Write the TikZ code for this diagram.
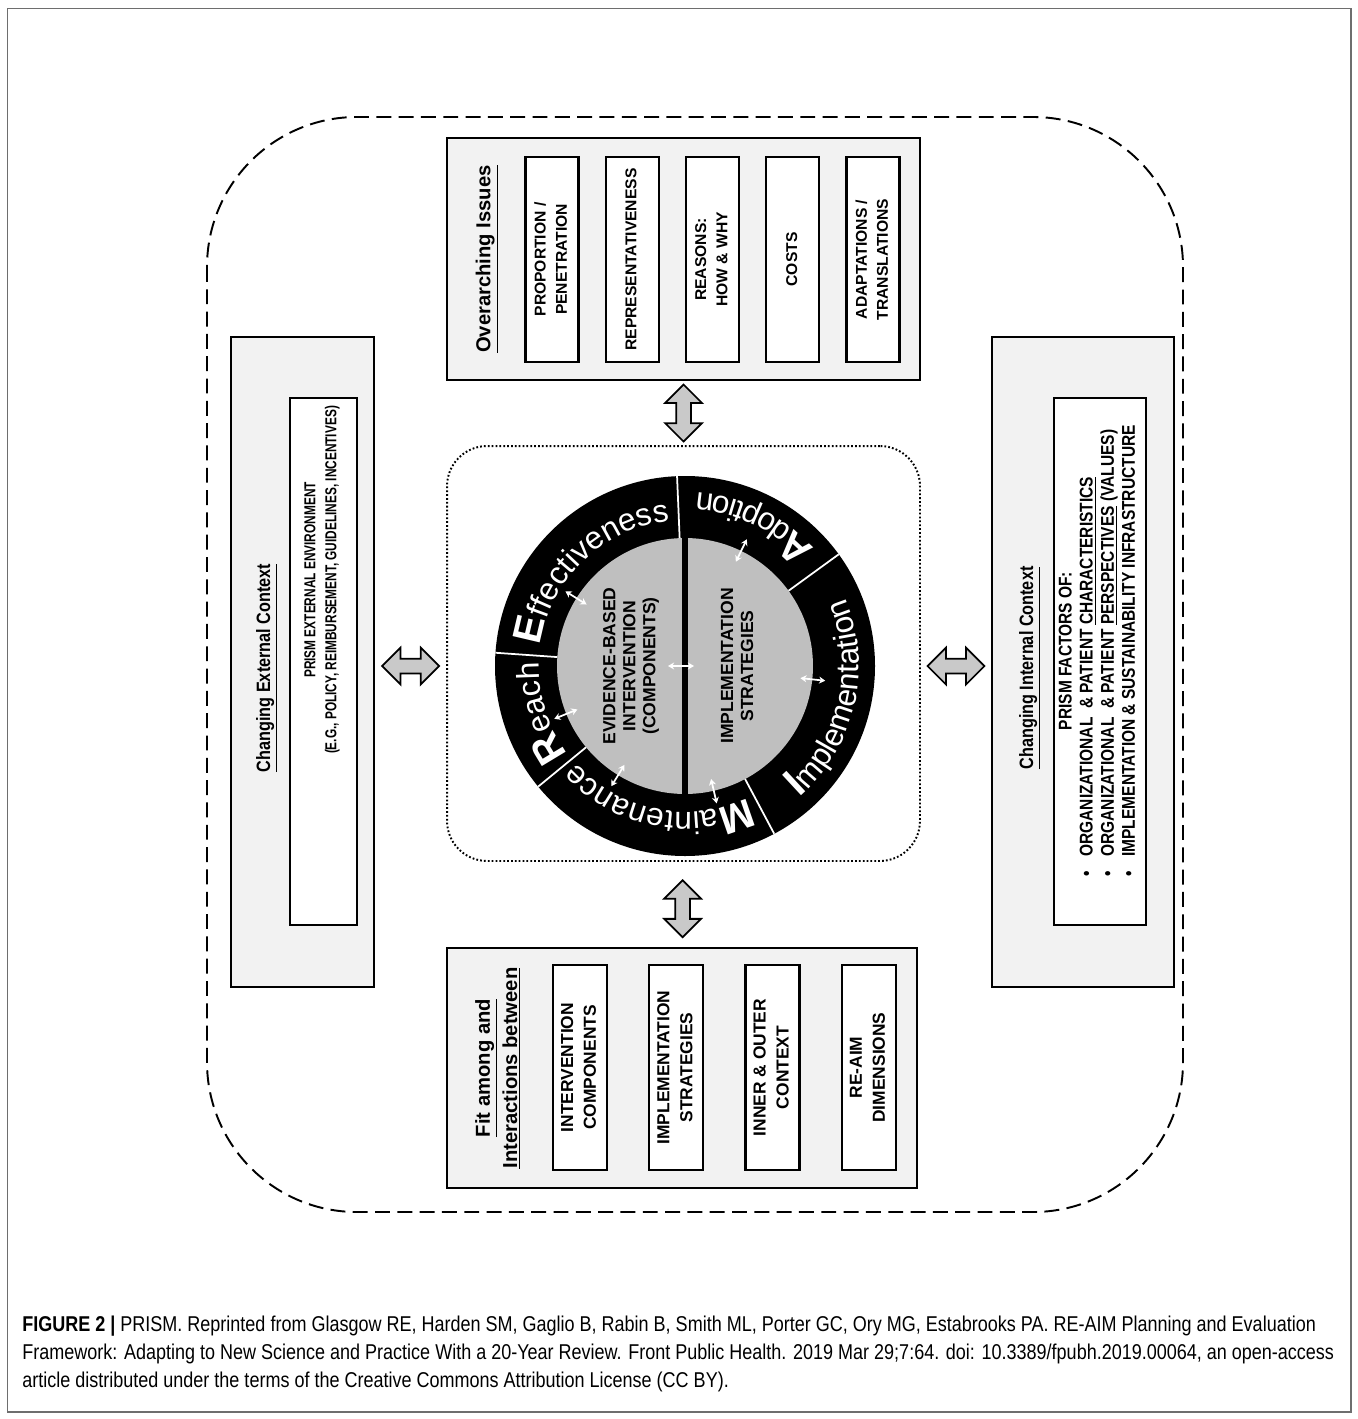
\documentclass[tikz,border=0pt]{standalone}
\usepackage{fontspec}
\setmainfont{Liberation Sans}
\newfontfamily\narrowfont[FakeStretch=0.84]{Liberation Sans}
\newfontfamily\tightfont[FakeStretch=0.75]{Liberation Sans}
\usepackage{graphicx}
\usepackage{tikz}
\usetikzlibrary{arrows.meta, positioning, shapes.arrows, decorations.text, calc}

\definecolor{panelgray}{HTML}{F2F2F2}
\definecolor{blockgray}{HTML}{C9C9C9}
\definecolor{coregray}{HTML}{BFBFBF}
\definecolor{edgegray}{HTML}{6E6E6E}

\newcommand{\vlabel}[1]{\rotatebox{90}{\begin{tabular}{@{}c@{}}#1\end{tabular}}}
\newcommand{\ringfont}{\fontsize{18}{18}\selectfont}
\newcommand{\ringcap}{\bfseries\fontsize{23}{23}\selectfont}

\begin{document}
\begin{tikzpicture}[
  x=0.02cm, y=0.02cm,
  panel/.style={draw=black, fill=panelgray, line width=1.1pt, inner sep=0pt},
  issue/.style={draw=black, fill=white, line width=1.3pt, inner sep=0pt,
                minimum width=1.06cm, minimum height=4.1cm,
                font=\bfseries\fontsize{8.9}{12}\selectfont},
  fitbox/.style={issue, minimum width=1.08cm, font=\bfseries\fontsize{9.9}{13}\selectfont},
  ttl/.style={rotate=90, align=center, font=\bfseries\fontsize{11.5}{15.5}\selectfont},
  ctxttl/.style={rotate=90, align=center, font=\narrowfont\bfseries\fontsize{11}{15}\selectfont},
  blockarr/.style={double arrow, draw=black, fill=blockgray, line width=1pt,
                   minimum height=1.14cm, inner sep=0.13cm,
                   double arrow head extend=0.22cm},
  seg/.style={white, line width=1pt},
  tick/.style={{Stealth[length=3.5pt,width=4pt]}-{Stealth[length=3.5pt,width=4pt]}, white, line width=1pt}
]
\useasboundingbox (0,0) rectangle (1358,-1419);
\draw[edgegray, line width=1.1pt] (7.5,-8.5) rectangle (1351,-1412);
\draw[line width=1.1pt, dash pattern=on 8.5pt off 4.2pt, rounded corners=3cm] (207,-117) rectangle (1183,-1212);

% overarching issues
\node[panel, minimum width=9.46cm, minimum height=4.84cm] (oi) at (683.5,-259) {};
\node[ttl] (oit) at (487,-259) {\underline{Overarching Issues}};
\node[issue] (pp) at (552,-259.5) {\vlabel{PROPORTION /\\PENETRATION}};
\node[issue, right=0.5cm of pp] (rp) {\vlabel{REPRESENTATIVENESS}};
\node[issue, right=0.5cm of rp] (rs) {\vlabel{REASONS:\\HOW \& WHY}};
\node[issue, right=0.5cm of rs] (co) {\vlabel{COSTS}};
\node[issue, right=0.5cm of co] (ad) {\vlabel{ADAPTATIONS /\\TRANSLATIONS}};

% fit among and interactions
\node[panel, minimum width=9.4cm, minimum height=4.8cm] (fb) at (682,-1068) {};
\node[ttl] (fbt) at (498,-1068) {\underline{Fit among and}\\\underline{Interactions between}};
\node[fitbox] (icmp) at (580,-1067.5) {\vlabel{INTERVENTION\\COMPONENTS}};
\node[fitbox, right=0.8cm of icmp] (istr) {\vlabel{IMPLEMENTATION\\STRATEGIES}};
\node[fitbox, right=0.8cm of istr] (ioc) {\vlabel{INNER \& OUTER\\CONTEXT}};
\node[fitbox, right=0.8cm of ioc] (rad) {\vlabel{RE-AIM\\DIMENSIONS}};

% external context
\node[panel, minimum width=2.86cm, minimum height=13cm] (ec) at (302.5,-662) {};
\node[ctxttl] (ect) at (267,-668) {\underline{Changing External Context}};
\node[issue, minimum width=1.34cm, minimum height=10.54cm] (ecb) at (323.5,-661.5) {};
\node[rotate=90, align=center, font=\tightfont\bfseries\fontsize{9}{12}\selectfont] (ecl) at (322,-580)
  {PRISM EXTERNAL ENVIRONMENT\\(E.G., POLICY, REIMBURSEMENT, GUIDELINES, INCENTIVES)};

% internal context
\node[panel, minimum width=3.64cm, minimum height=13cm] (ic) at (1083,-662) {};
\node[ctxttl] (ict) at (1030,-668) {\underline{Changing Internal Context}};
\node[issue, minimum width=1.84cm, minimum height=10.54cm] (icb) at (1100,-661.5) {};
\node[rotate=90, font=\narrowfont\bfseries\fontsize{10.5}{12}\selectfont] (icl) at (1099,-651)
  {\begin{tabular}{@{}l@{}}
   \multicolumn{1}{@{}c@{}}{PRISM FACTORS OF:}\\
   \textbullet\hspace{0.8em}ORGANIZATIONAL \ \& PATIENT \underline{CHARACTERISTICS}\\
   \textbullet\hspace{0.8em}ORGANIZATIONAL \ \& PATIENT \underline{PERSPECTIVES} (VALUES)\\
   \textbullet\hspace{0.8em}IMPLEMENTATION \& SUSTAINABILITY INFRASTRUCTURE
   \end{tabular}};

% RE-AIM wheel
\node[draw, line width=1.1pt, dash pattern=on 1pt off 1.2pt, rounded corners=0.8cm,
      minimum width=9.46cm, minimum height=8.3cm] (mid) at (683.5,-653.5) {};
\coordinate (c) at (685,-666);
\fill[black] (c) circle[radius=190];
\node[circle, fill=coregray, minimum size=5.12cm, inner sep=0pt] (core) at (c) {};
\draw[line width=3pt] (core.north) -- (core.south);
\foreach \a in {92.4, 36, -62, 219.4, 176}
  \draw[seg] ($(c)+(\a:128)$) -- ($(c)+(\a:190)$);
\node[rotate=90, align=center, font=\bfseries\fontsize{10}{11.4}\selectfont] (ebi) at (631,-666)
  {EVIDENCE-BASED\\INTERVENTION\\(COMPONENTS)};
\node[rotate=90, align=center, font=\bfseries\fontsize{10}{11.4}\selectfont] (ims) at (737,-666)
  {IMPLEMENTATION\\STRATEGIES};

\path[decorate, decoration={text along path, text align=center, text color=white,
  text={|\ringcap|E|\ringfont|ffectiveness}}]
  ($(c)+(176:146)$) arc[start angle=176, end angle=92, radius=146];
\path[decorate, decoration={text along path, text align=center, text color=white,
  text={|\ringcap|R|\ringfont|each}}]
  ($(c)+(219.4:146)$) arc[start angle=219.4, end angle=176, radius=146];
\path[decorate, decoration={text along path, text align=center, text color=white,
  text={|\ringcap|M|\ringfont|aintenance}}]
  ($(c)+(298:146)$) arc[start angle=298, end angle=219.4, radius=146];
\path[decorate, decoration={text along path, text align=center, text color=white,
  text={|\ringcap|A|\ringfont|doption}}]
  ($(c)+(36:174)$) arc[start angle=36, end angle=92.4, radius=174];
\path[decorate, decoration={text along path, text align=center, text color=white,
  text={|\ringcap|I|\ringfont|mplementation}}]
  ($(c)+(-62:174)$) arc[start angle=-62, end angle=36, radius=174];

\foreach \a in {148, 64, -6, -77, 238.5, 202}
  \draw[tick] ($(c)+(\a:116)$) -- ($(c)+(\a:141)$);
\draw[tick] ($(c)+(-17,0)$) -- ($(c)+(9,0)$);

% block arrows
\node[blockarr, rotate=90] (aup) at ($(oi.south)!0.5!(mid.north)$) {};
\node[blockarr, rotate=90] (adown) at ($(mid.south)!0.55!(fb.north)$) {};
\node[blockarr] (aleft) at ($(ec.east |- c)!0.5!(mid.west |- c)$) {};
\node[blockarr] (aright) at ($(mid.east |- c)!0.5!(ic.west |- c)$) {};

% caption
\node[anchor=north west, align=left, inner sep=0pt,
      font=\narrowfont\fontsize{12.2}{15.9}\selectfont] (cap) at (22,-1316)
  {\textbf{FIGURE 2 |} PRISM. Reprinted from Glasgow RE, Harden SM, Gaglio B, Rabin B, Smith ML, Porter GC, Ory MG, Estabrooks PA. RE-AIM Planning and Evaluation\\
   Framework: Adapting to New Science and Practice With a 20-Year Review. Front Public Health. 2019 Mar 29;7:64. doi: 10.3389/fpubh.2019.00064, an open-access\\
   article distributed under the terms of the Creative Commons Attribution License (CC BY).};
\end{tikzpicture}
\end{document}
